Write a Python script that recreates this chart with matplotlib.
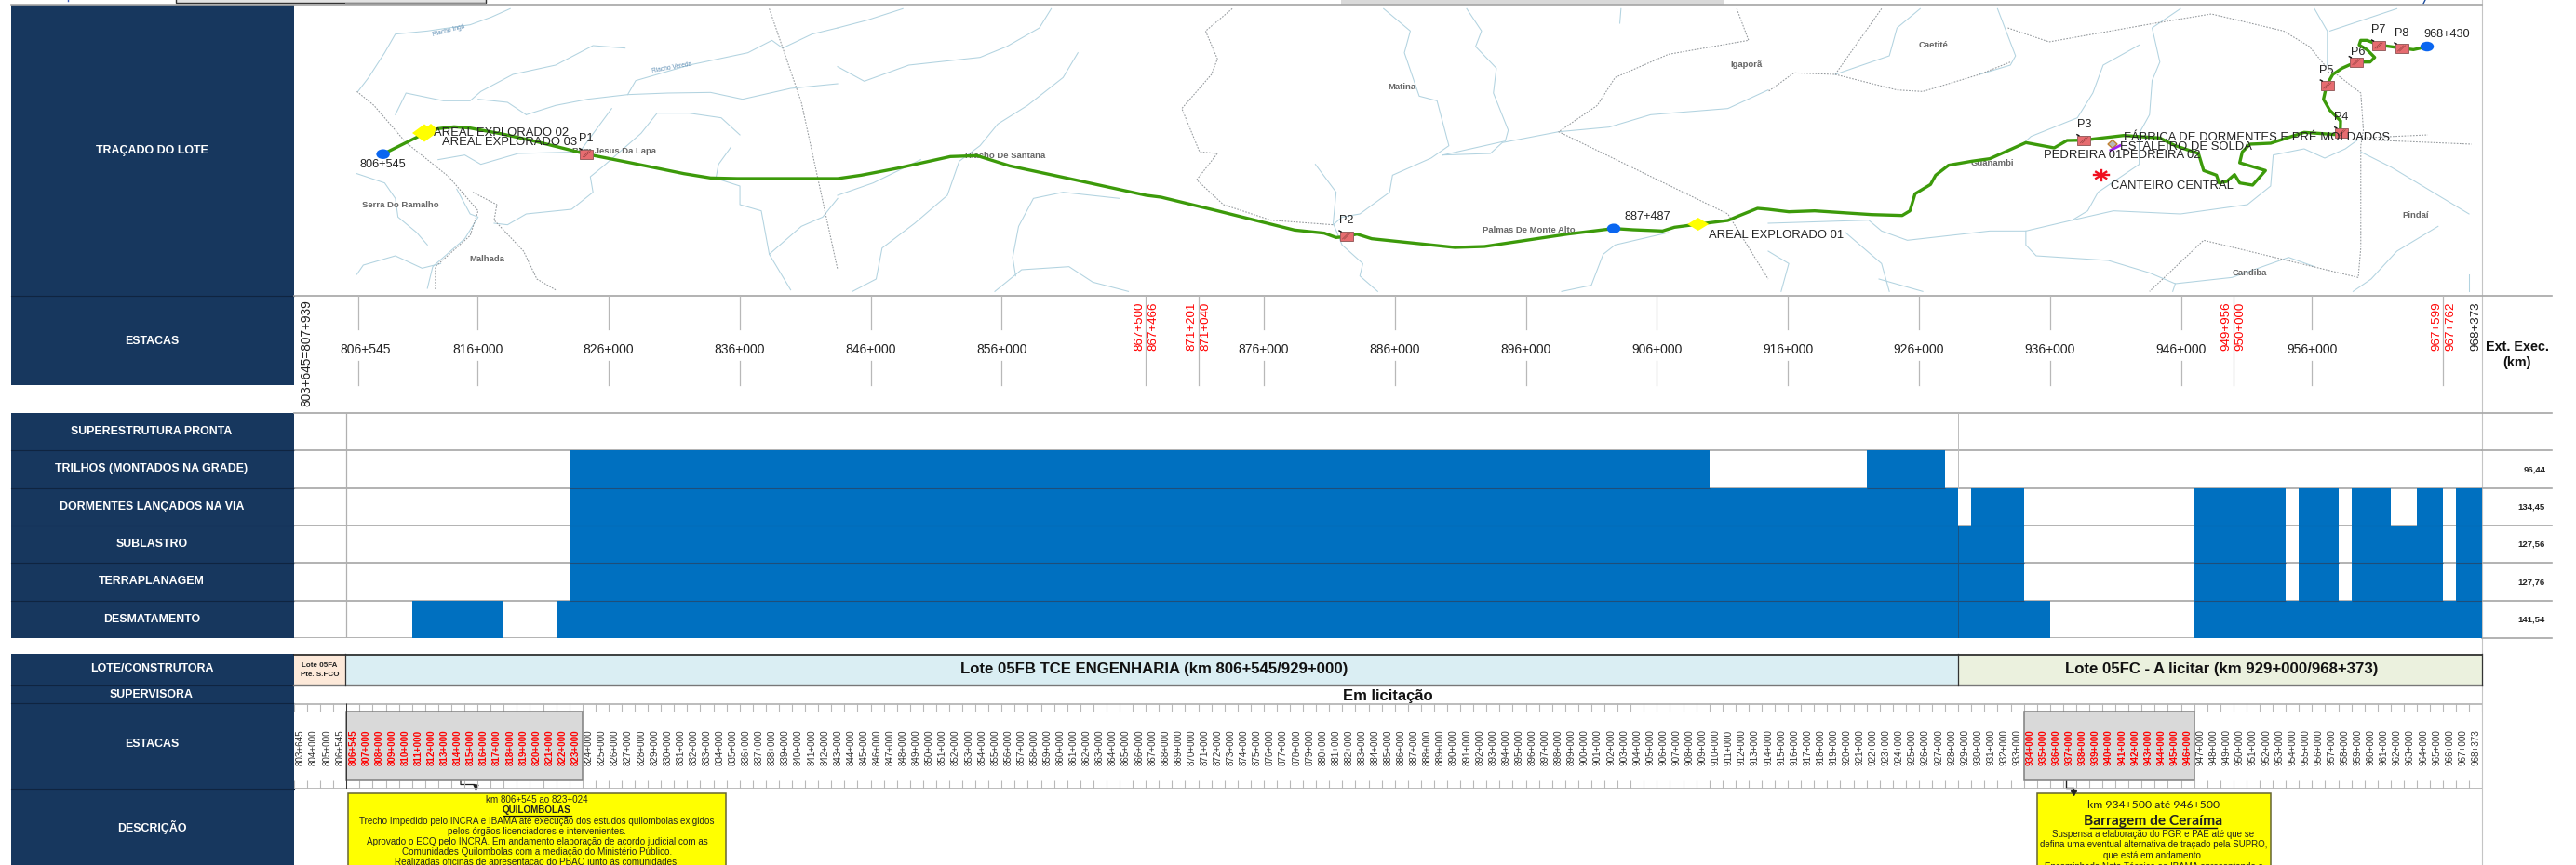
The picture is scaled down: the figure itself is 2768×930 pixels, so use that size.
import matplotlib
matplotlib.use("Agg")
import matplotlib.pyplot as plt
from matplotlib.patches import Rectangle, Ellipse, Polygon

plt.rcParams['font.family'] = ['Liberation Sans', 'DejaVu Sans']

# ---------- data ----------
row_labels = ["SUPERESTRUTURA PRONTA", "TRILHOS (MONTADOS NA GRADE)", "DORMENTES LANÇADOS NA VIA",
              "SUBLASTRO", "TERRAPLANAGEM", "DESMATAMENTO"]
row_totals = ["", "96,44", "134,45", "127,56", "127,76", "141,54"]
row_edges = [444.3, 484.3, 525.3, 565.3, 605.3, 646.0, 686.3]
superestrutura = []
trilhos = [(21, 108), (120, 126)]
dormentes = [(21, 127), (128, 132), (145, 152), (153, 156), (157, 160), (162, 164), (165, 167)]
sublastro = [(21, 132), (145, 152), (153, 156), (157, 164), (165, 167)]
terraplanagem = [(21, 132), (145, 152), (153, 156), (157, 164), (165, 167)]
desmatamento = [(9, 16), (20, 134), (145, 167)]
progress = [superestrutura, trilhos, dormentes, sublastro, terraplanagem, desmatamento]

stake_cols = ["803+645", "804+000", "805+000", "806+545"] + \
             [("806+545" if k == 806 else f"{k}+000") for k in range(806, 968)] + ["968+373"]
red_cols = list(range(4, 22)) + list(range(132, 145))

major_pos = [4.9, 14, 24, 34, 44, 54, 74, 84, 94, 104, 114, 124, 134, 144, 154]
major_txt = ["806+545", "816+000", "826+000", "836+000", "846+000", "856+000", "876+000", "886+000",
             "896+000", "906+000", "916+000", "926+000", "936+000", "946+000", "956+000"]
red_pos = [65, 69, 148, 164]
red_pairs = [("867+500", "867+466"), ("871+201", "871+040"), ("949+956", "950+000"), ("967+599", "967+762")]

def z1(p): return [(x / 1.742, y / 3) for x, y in p]
def z7(p): return [(900 + x / 1.568, y / 3) for x, y in p]
def z2(p): return [(1900 + x / 1.806, y / 3) for x, y in p]
def z8(p): return [(2480 + x / 3, 20 + y / 3) for x, y in p]

route = z1([(717,497),(795,430),(820,415),(850,409),(880,413),(940,432),(1000,455),(1098,497),(1180,525),
            (1280,560),(1330,574),(1380,576),(1568,576)]) + \
        z7([(40,565),(100,543),(190,505),(235,502),(290,535),(400,580),(520,630),(545,636),(640,680),(770,742),
            (820,752),(840,766),(857,763),(875,755),(900,770),(1040,798),(1090,795),(1230,755),(1308,737),
            (1340,741),(1390,745),(1410,733),(1450,723),(1500,711),(1520,695),(1550,672),(1568,675)]) + \
        z2([(40,683),(90,680),(200,692),(260,695),(275,680),(285,625),(315,595),(325,565),(350,533),(395,520),
            (430,512),(500,460),(555,477),(580,453),(612,452),(690,437),(760,445),(790,470),(835,495),(845,550),
            (870,565),(875,590),(890,585),(905,563),(915,590),(940,597),(965,550),(915,525),(920,490),(935,465),
            (975,462),(1040,427),(1110,435)]) + \
        z8([(105,330),(70,295),(50,260),(60,215),(80,180),(110,160),(155,140),(200,140),(215,125),(190,100),
            (165,85),(170,70),(190,70),(230,85),(300,95),(340,100),(385,90)])

rivers = [z1(p) for p in [
    [(955,28),(920,55),(880,80),(800,100),(740,110),(720,170),(690,250),(670,295)],
    [(740,370),(760,300),(830,325),(880,325),(900,295),(960,240),(1040,210),(1110,147),(1170,155)],
    [(985,370),(1040,340),(1100,320),(1175,305),(1250,300),(1330,298),(1390,320),(1480,285),(1568,270)],
    [(895,320),(950,330),(985,370)],
    [(1175,305),(1190,260),(1290,210),(1400,170),(1445,130),(1465,155),(1520,110),(1568,90)],
    [(820,515),(870,500),(900,530),(970,495),(1085,490),(1145,350)],
    [(1385,435),(1350,380),(1290,365),(1230,365),(1200,430),(1130,535),(1105,570),(1110,620),(1070,675),(985,690),(950,725),(925,720)],
    [(668,560),(720,590),(740,640),(745,700),(780,750),(800,790)],
    [(855,610),(880,690),(895,700),(870,770),(810,860),(800,930)],
    [(668,885),(680,855),(740,825),(790,865),(825,850)],
    [(1340,575),(1385,600),(1385,660),(1425,680),(1440,820),(1480,935)],
    [(1368,475),(1345,530),(1340,575)],
    [(1440,820),(1500,730),(1540,700),(1568,640)],
]] + [z7(p) for p in [
    [(0,90),(50,65),(110,28)],
    [(0,215),(45,262),(120,210),(240,185),(285,150),(340,90),(360,28)],
    [(405,170),(380,250),(320,340),(270,400),(240,470),(205,520),(185,630),(130,720),(75,800),(65,900),(25,940)],
    [(0,630),(60,590),(140,515)],
    [(475,640),(380,620),(330,640),(305,730),(295,830),(300,890)],
    [(265,940),(310,870),(390,860),(430,910),(490,940)],
    [(805,530),(840,620),(835,720),(850,790),(885,850),(880,890),(910,940)],
    [(920,28),(965,100),(955,170),(980,310),(1010,325),(1030,470),(1000,510),(935,565),(930,620),(880,690),(850,700),(835,725)],
    [(1060,28),(1085,100),(1075,150),(1110,220),(1105,300),(1130,420),(1125,455),(1020,500)],
    [(1320,28),(1318,75)],
    [(1400,750),(1310,790),(1290,820),(1270,920),(1220,940)],
    [(1020,500),(1100,495),(1120,460),(1215,425),(1300,410),(1370,370),(1500,350),(1568,290)],
]] + [z2(p) for p in [
    [(295,28),(250,90),(235,180),(130,240)],
    [(445,28),(480,180),(470,210),(410,240)],
    [(720,145),(650,210),(630,300),(600,380),(510,440),(490,470)],
    [(800,28),(745,90),(760,200),(745,260),(740,370),(720,430),(720,530),(640,620),(620,680),(590,710),(500,745),(430,745),(270,775),(220,745),(195,710),(0,720)],
    [(1060,28),(1085,100),(1085,210)],
    [(1220,28),(1090,100)],
    [(590,710),(670,680),(800,690),(930,660),(975,600),(980,500),(1040,480),(1080,510),(1120,480),(1145,450)],
    [(1150,490),(1210,540),(1260,590),(1310,640),(1360,690)],
    [(1300,730),(1220,810),(1170,900),(1135,940)],
    [(500,745),(500,790),(520,825),(660,840),(740,880),(790,915),(900,895),(1010,830),(1060,860)],
    [(790,915),(785,940)],
    [(150,750),(220,850),(235,940)],
    [(215,900),(300,940)],
    [(0,810),(40,850),(25,940)],
    [(1360,885),(1360,940)],
]]

borders = [z1(p) for p in [
    [(668,295),(700,340),(760,460),(840,570),(895,680),(880,760),(815,860),(815,935)],
    [(885,620),(930,660),(925,710),(980,810),(1005,900),(1040,935)],
    [(1440,28),(1500,330),(1568,870)],
]] + [z7(p) for p in [
    [(665,28),(620,100),(640,190),(630,240),(580,350),(610,490),(640,495),(605,580),(650,660),(730,710),(835,725)],
    [(1515,28),(1535,130),(1400,175),(1310,250),(1280,340),(1215,425),(1500,690),(1568,900)],
]] + [z2(p) for p in [
    [(220,28),(130,240),(50,235),(0,295)],
    [(130,240),(250,290),(300,295),(410,240),(470,200)],
    [(465,90),(545,135),(750,75),(860,45),(1000,100),(1050,150),(1080,210),(1150,300),(1155,420),(1150,470),(1150,800),(1145,895)],
    [(1145,895),(845,775),(740,940)],
    [(1150,445),(1280,435)],
    [(1150,450),(1365,465)],
]]

towns = [("Serra Do Ramalho", 430.5, 220.7), ("Malhada", 523.5, 278), ("Bom Jesus Da Lapa", 660, 162.3),
         ("Riacho De Santana", 1080.5, 167), ("Matina", 1506, 94), ("Palmas De Monte Alto", 1643, 247),
         ("Igaporã", 1877, 69.7), ("Caetité", 2078, 48.7), ("Guanambi", 2141, 176), ("Pindaí", 2596, 231.7),
         ("Candiba", 2417, 293.7)]
river_names = [("Riacho Ingá", 481.7, 33, 15), ("Riacho Vereda", 721.7, 73, 10)]
map_center = [("806+545", 411.6, 177), ("P1", 630, 148.7), ("887+487", 1770.5, 233), ("P2", 1446.5, 237),
              ("P3", 2239.4, 134), ("P4", 2516, 126), ("P5", 2500, 75.7), ("P6", 2533.4, 56), ("P7", 2556, 32.3),
              ("P8", 2580.5, 35.7), ("968+430", 2628.7, 37.3)]
map_left = [("AREAL EXPLORADO 02", 466, 143), ("AREAL EXPLORADO 03", 474.7, 152.7), ("AREAL EXPLORADO 01", 1836, 253),
            ("FÁBRICA DE DORMENTES E PRÉ MOLDADOS", 2282, 148.3), ("ESTALEIRO DE SOLDA", 2277.6, 158),
            ("PEDREIRA 01PEDREIRA 02", 2196, 167), ("CANTEIRO CENTRAL", 2268, 199.7)]
pit_xy = [(630.3, 165.7), (1446.5, 254), (2239.4, 150.7), (2516.3, 142.7), (2500.8, 92), (2531.8, 66.7), (2556, 49), (2580.5, 52)]
blue_xy = [(411.6, 165.7), (1734, 245.7), (2608, 50)]
yellow_xy = [(456, 143, 26, 19), (463, 139, 14, 12), (1824.7, 241, 23, 14)]

box1_lines = ["km 806+545 ao 823+024", "QUILOMBOLAS",
              "Trecho Impedido pelo INCRA e IBAMA até execução dos estudos quilombolas exigidos",
              "pelos órgãos licenciadores e intervenientes.",
              "Aprovado o ECQ pelo INCRA. Em andamento elaboração de acordo judicial com as",
              "Comunidades Quilombolas com a mediação do Ministério Público.",
              "Realizadas oficinas de apresentação do PBAQ junto às comunidades."]
box2_lines = ["km 934+500 até 946+500", "Barragem de Ceraíma",
              "Suspensa a elaboração do PGR e PAE até que se",
              "defina uma eventual alternativa de traçado pela SUPRO,",
              "que está em andamento.",
              "Encaminhada Nota Técnica ao IBAMA apresentando a"]

# ---------- figure ----------
W, H = 2768, 930
NAVY, BLUE, GRID = "#17375E", "#0070C0", "#A6A6A6"
X0, XEND = 316, 2667.4
fig = plt.figure(figsize=(W / 100, H / 100), dpi=100, facecolor="white")

def band(x0, x1, y0, y1, **kw):
    a = fig.add_axes([x0 / W, 1 - y1 / H, (x1 - x0) / W, (y1 - y0) / H], **kw)
    a.set_axis_off()
    return a

ax = band(0, W, 0, H)
ax.set_xlim(0, W); ax.set_ylim(H, 0)

def rect(x0, y0, x1, y1, **kw):
    ax.add_patch(Rectangle((x0, y0), x1 - x0, y1 - y0, **kw))

# navy headers
for y0, y1 in [(5, 414), (444.3, 686.3), (703.3, 930)]:
    rect(12, y0, X0, y1, fc=NAVY, ec="none", zorder=2)
for y in [318.3, 484.3, 525.3, 565.3, 605.3, 646, 736.7, 756.3, 848.3]:
    ax.plot([12, X0], [y, y], color="#0F2440", lw=0.8, zorder=3)
head = [("TRAÇADO DO LOTE", 161.7), ("ESTACAS", 366.7), ("LOTE/CONSTRUTORA", 719), ("SUPERVISORA", 746.7),
        ("ESTACAS", 800), ("DESCRIÇÃO", 889.3)]
for (t, y) in head:
    ax.text(163, y, t, color="white", fontweight="bold", fontsize=8.9, ha="center", va="center", zorder=4)
for i, t in enumerate(row_labels):
    ax.text(163, (row_edges[i] + row_edges[i + 1]) / 2 - 0.5, t, color="white", fontweight="bold", fontsize=8.9,
            ha="center", va="center", zorder=4)

# top remnants
rect(189.4, -2, 522, 3.5, fc="#E3E3E3", ec="#333333", lw=1, zorder=2)
rect(371, 3.5, 522, 5, fc="#8C8C8C", ec="none", zorder=2)
rect(1441, 0, 1851.5, 5, fc="#D9D9D9", ec="none", zorder=2)
ax.plot([73, 73], [0, 1], color="#4060C0", lw=1)
ax.plot([2604, 2606], [4, 0], color="#1F4E9E", lw=1)

# frame lines
ax.plot([12, XEND], [5, 5], color=GRID, lw=1.2, zorder=3)
for y in [318.3, 444.3]:
    ax.plot([X0, 2741.6], [y, y], color=GRID, lw=1.2, zorder=3)
ax.plot([XEND, XEND], [0, H], color="#C4C4C4", lw=0.8, zorder=1)

# map
mp = band(0, W, 0, H)
mp.set_xlim(0, W); mp.set_ylim(H, 0); mp.patch.set_alpha(0)
for r in rivers:
    mp.plot(*zip(*r), color="#B2D3E0", lw=0.75, zorder=2)
for b in borders:
    mp.plot(*zip(*b), color="#92979B", lw=0.75, ls=(0, (1.6, 1.4)), zorder=2)
mp.plot(*zip(*route), color="#3C9A0A", lw=2.4, zorder=4, solid_joinstyle="round", solid_capstyle="round")
for t, x, y in towns:
    mp.text(x, y, t, color="#666666", fontsize=6.8, fontweight="bold", ha="center", va="center", zorder=3)
for t, x, y, rot in river_names:
    mp.text(x, y, t, color="#5F8FB5", fontsize=4.8, rotation=rot, ha="center", va="center", zorder=3)
for t, x, y in map_center:
    mp.text(x, y, t, color="#222222", fontsize=9.2, ha="center", va="center", zorder=6)
for t, x, y in map_left:
    mp.text(x, y, t, color="#222222", fontsize=9.4, ha="left", va="center", zorder=6)
for x, y in pit_xy:
    mp.add_patch(Rectangle((x - 7, y - 5), 14, 10, fc="#E66C70", ec="#9A6060", lw=0.7, zorder=5))
    mp.plot([x - 4, x + 2], [y + 3, y - 3], color="#9A4444", lw=0.5, zorder=5.5)
    mp.plot([x - 2, x + 4], [y + 3, y - 3], color="#9A4444", lw=0.5, zorder=5.5)
    mp.plot([x - 7.5, x - 5.5], [y - 6, y - 5], color="#111111", lw=1, zorder=5.5)
for x, y in blue_xy:
    mp.add_patch(Ellipse((x, y), 14.5, 10.5, fc="#0A66F0", ec="none", zorder=5))
for x, y, w, h in yellow_xy:
    mp.add_patch(Polygon([(x - w / 2, y), (x, y - h / 2), (x + w / 2, y), (x, y + h / 2)], fc="#FFFF00", ec="none", zorder=5))
sx, sy = 2257.7, 188.3
for dx, dy in [(8, 0), (5.5, 3.5), (0, 5.5), (-5.5, 3.5)]:
    mp.plot([sx - dx, sx + dx], [sy - dy, sy + dy], color="#F01020", lw=1.7, zorder=5)
mp.add_patch(Polygon([(2265, 155), (2270, 150.5), (2275, 155), (2270, 159.5)], fc="#B9B9B9", ec="#C08030", lw=1, zorder=5))
mp.plot([2268, 2278], [161.5, 156.5], color="#A020F0", lw=2, zorder=5)

# top stationing, column scale
st = band(X0, XEND, 318.3, 444.3)
st.set_xlim(0, 167); st.set_ylim(444.3, 318.3)
for x, t in zip(major_pos, major_txt):
    st.plot([x, x], [318.3, 354], color="#B8B8B8", lw=0.9)
    st.plot([x, x], [388, 414], color="#B8B8B8", lw=0.9)
    st.text(x + (0.55 if t == "806+545" else 0), 375.5, t, fontsize=10, color="#222222", ha="center", va="center")
for x, (a, b) in zip(red_pos, red_pairs):
    st.plot([x, x], [318.3, 414], color="#B8B8B8", lw=0.9)
    st.text(x - 0.5, 377, a, color="#FF0000", fontsize=9.6, rotation=90, ha="center", va="bottom")
    st.text(x + 0.55, 377, b, color="#FF0000", fontsize=9.6, rotation=90, ha="center", va="bottom")
st.text(0.92, 437, "803+645=807+939", fontsize=9.8, color="#222222", rotation=90, ha="center", va="bottom")
st.text(166.5, 377, "968+373", fontsize=9.6, color="#222222", rotation=90, ha="center", va="bottom")
ax.text(2704.5, 373, "Ext. Exec.", fontsize=10.4, fontweight="bold", ha="center", va="center", color="#111111")
ax.text(2704.5, 390, "(km)", fontsize=10.4, fontweight="bold", ha="center", va="center", color="#111111")

# progress gantt, column scale
ga = band(X0, XEND, row_edges[0], row_edges[-1])
ga.set_xlim(0, 167); ga.set_ylim(row_edges[-1], row_edges[0])
for i, spans in enumerate(progress):
    top, bot = row_edges[i], row_edges[i + 1]
    ga.hlines(bot, 0, 167, color=GRID, lw=1.2, zorder=1)
    for a, b in spans:
        ga.barh(top, b - a, left=a, height=bot - top, align="edge", color=BLUE, ec="none", zorder=2)
        if i < 5:
            ga.hlines(bot, a, b, color="#1F4E79", lw=0.8, zorder=3)
ga.vlines(4, row_edges[0], row_edges[-1], color="#B0B0B0", lw=0.9, zorder=3)
ga.vlines(127, row_edges[0], row_edges[2], color="#BDBDBD", lw=0.7, zorder=1.5)
ga.vlines(127, row_edges[3], row_edges[-1], color="#1F4E79", lw=0.6, zorder=3)
for i, t in enumerate(row_totals):
    ax.text(2735, (row_edges[i] + row_edges[i + 1]) / 2, t, fontsize=6.8, fontweight="bold", ha="right", va="center", color="#222222")
    ax.plot([XEND, 2741.6], [row_edges[i + 1]] * 2, color=GRID, lw=1.2)

# lots
rect(X0, 703.3, 371.4, 736.7, fc="#FDE9D9", ec="none", zorder=2)
rect(371.4, 703.3, 2104.3, 736.7, fc="#DAEEF3", ec="none", zorder=2)
rect(2104.3, 703.3, XEND, 736.7, fc="#EBF1DE", ec="none", zorder=2)
ax.plot([X0, XEND], [703.6, 703.6], color="#222222", lw=1.2, zorder=3)
ax.plot([X0, XEND], [736.7, 736.7], color="#777777", lw=1.7, zorder=3)
for x in [371.4, 2104.3, XEND]:
    ax.plot([x, x], [703.3, 736.7], color="#333333", lw=0.9, zorder=3)
ax.text(343.5, 715, "Lote 05FA", fontsize=5.8, fontweight="bold", ha="center", va="center", color="#222222", zorder=4)
ax.text(343.5, 725, "Pte. S.FCO", fontsize=5.8, fontweight="bold", ha="center", va="center", color="#222222", zorder=4)
ax.text(1240, 719.5, "Lote 05FB TCE ENGENHARIA (km 806+545/929+000)", fontsize=12.1, fontweight="bold", ha="center", va="center", color="#111111", zorder=4)
ax.text(2387, 719.5, "Lote 05FC - A licitar (km 929+000/968+373)", fontsize=12.1, fontweight="bold", ha="center", va="center", color="#111111", zorder=4)
ax.text(1491, 748, "Em licitação", fontsize=12, fontweight="bold", ha="center", va="center", color="#111111", zorder=4)

# lower stationing, column scale
lo = band(X0, XEND, 756.3, 848.3)
lo.set_xlim(0, 167); lo.set_ylim(848.3, 756.3)
lo.hlines([756.6, 848], 0, 167, color="#B0B0B0", lw=1.2)
lo.vlines(range(168), 756.3, 765, color="#B8B8B8", lw=0.8)
lo.vlines(range(168), 839, 848.3, color="#B8B8B8", lw=0.8)
lo.add_patch(Rectangle((4, 765), 18, 74.3, fc="#D9D9D9", ec="#7F7F7F", lw=1.1, zorder=2))
lo.add_patch(Rectangle((132, 765), 13, 74.3, fc="#D9D9D9", ec="#7F7F7F", lw=1.1, zorder=2))
lo.vlines(4, 756.3, 849, color="#333333", lw=0.7, zorder=3)
for i, t in enumerate(stake_cols):
    red = i in red_cols
    lo.text(i + 0.5, 823, t, fontsize=7.1, rotation=90, ha="center", va="bottom", zorder=4,
            color="#FF0000" if red else "#333333", fontweight="bold" if red else "normal")

# connector arrows
ax.plot([495, 495, 510, 511], [839, 843.5, 843.5, 846], color="#222222", lw=0.9, zorder=5)
ax.plot([510.5], [846], ls="none", marker="v", ms=3.5, color="#222222", zorder=5)
ax.plot([2220, 2220, 2228, 2228], [839, 846.7, 846.7, 851], color="#222222", lw=1, zorder=5)
ax.plot([2228], [852], ls="none", marker="v", ms=4, color="#222222", zorder=5)

# callouts
rect(374, 853, 780, 940, fc="#FFFF00", ec="#666633", lw=1.1, zorder=4)
rect(2188.5, 853, 2440, 940, fc="#FFFF00", ec="#666633", lw=1.1, zorder=4)
for t, y in zip(box1_lines, [860, 871, 882.7, 893.7, 905, 915.7, 926.7]):
    b = t == "QUILOMBOLAS"
    ax.text(577, y, t, fontsize=7.1, ha="center", va="center", color="#222222", zorder=5,
            fontweight="bold" if b else "normal")
    if b:
        ax.plot([541, 613.5], [876.5, 876.5], color="#111111", lw=0.9, zorder=5)
for t, y in zip(box2_lines, [865, 882.7, 896.7, 908, 920, 931.5]):
    first = t.startswith("km")
    b = t.startswith("Barragem")
    ax.text(2314, y, t, fontsize=11.2 if b else (8.8 if first else 7.05), ha="center", va="center", color="#222222",
            zorder=5, fontweight="bold" if b else "normal", family=["Lato"] if (b or first) else None)
    if b:
        ax.plot([2246, 2382], [889.5, 889.5], color="#111111", lw=1, zorder=5)

fig.savefig("out.png", dpi=100, facecolor="white")
